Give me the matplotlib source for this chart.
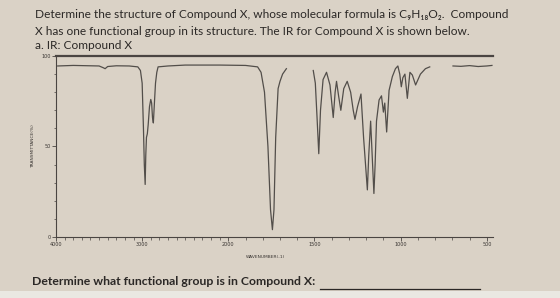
import numpy as np
import matplotlib
matplotlib.use("Agg")
import matplotlib.pyplot as plt
from matplotlib.patches import Rectangle
from matplotlib.ticker import FixedLocator

# IR spectrum of compound X (nan = gap in the trace)
wavenumber = [3980, 3800, 3600, 3500, 3450, 3430, 3400, 3300, 3150, 3050, 3020, 3000,
              2985, 2975, 2965, 2958, 2950, 2940, 2930, 2915, 2900, 2890, 2880, 2870,
              2860, 2845, 2830, 2815, 2700, 2500, 2300, 2100, 1900, 1830, 1810, 1790,
              1770, 1755, 1744, 1735, 1725, 1711, 1700, 1685, 1663, 1600,
              1507, 1495, 1485, 1475, 1465, 1450, 1430, 1410, 1391, 1380, 1372, 1360,
              1347, 1330, 1310, 1290, 1275, 1265, 1250, 1230, 1215, 1193, 1185, 1174,
              1165, 1155, 1148, 1140, 1125, 1111, 1100, 1092, 1081, 1067, 1048, 1030,
              1016, 1005, 996, 987, 975, 961, 946, 932, 913, 885, 856, 831, 760,
              696, 650, 600, 550, 500, 470]
transmittance = [94.5, 94.8, 94.6, 94.5, 93.5, 93.0, 94.2, 94.6, 94.5, 94.0, 92.0, 85.0,
                 60.0, 40.0, 29.0, 45.0, 55.0, 57.0, 62.0, 72.0, 76.0, 74.0, 66.0, 63.0,
                 72.0, 85.0, 91.0, 94.0, 94.5, 95.0, 95.0, 95.0, 94.8, 94.0, 91.0, 80.0,
                 50.0, 15.0, 4.0, 15.0, 55.0, 82.0, 86.0, 90.0, 93.0, np.nan,
                 92.0, 85.0, 66.0, 46.0, 70.0, 87.0, 91.0, 84.0, 66.0, 80.0, 86.0, 78.0,
                 70.0, 82.0, 86.0, 80.0, 70.0, 65.0, 72.0, 79.0, 55.0, 26.0, 45.0, 64.0,
                 45.0, 24.0, 40.0, 64.0, 75.7, 78.0, 69.0, 74.0, 58.0, 81.0, 88.6, 93.0,
                 94.5, 90.0, 83.0, 88.0, 90.0, 76.6, 91.0, 89.5, 84.0, 90.0, 93.0, 94.0, np.nan,
                 94.5, 94.3, 94.7, 94.2, 94.5, 94.8]

x_labels = [4000, 3000, 2000, 1500, 1000, 500]
y_labels = [0, 50, 100]

bg = "#dad2c6"
ink = "#2b2826"
fam = ["Lato", "DejaVu Sans"]


def fwd(x):
    x = np.asarray(x, dtype=float)
    return np.where(x >= 2000, x / 1000.0, 2.0 - (2000.0 - x) / 500.0)


def inv(u):
    u = np.asarray(u, dtype=float)
    return np.where(u >= 2, u * 1000.0, 2000.0 - (2.0 - u) * 500.0)


fig = plt.figure(figsize=(5.6, 2.98), dpi=100)
fig.patch.set_facecolor(bg)
fig.patches.append(Rectangle((0, 0), 1, 0.025, transform=fig.transFigure,
                             facecolor="#eae8e2", edgecolor="none", zorder=0))

ax = fig.add_axes([0.1, 0.205, 0.78, 0.607])
ax.set_facecolor("none")
ax.set_xscale("function", functions=(fwd, inv))
ax.plot(wavenumber, transmittance, color="#524e4a", lw=0.9)
ax.set_xlim(4000, 465)
ax.set_ylim(0, 100)

ax.spines["right"].set_visible(False)
ax.spines["top"].set_linewidth(1.6)
ax.spines["top"].set_color("#4a4542")
for s in ["left", "bottom"]:
    ax.spines[s].set_linewidth(0.8)
    ax.spines[s].set_color("#4a4542")

ax.xaxis.set_major_locator(FixedLocator(x_labels))
ax.xaxis.set_minor_locator(FixedLocator(list(range(600, 4000, 100))))
ax.set_xticklabels([str(v) for v in x_labels])
ax.yaxis.set_major_locator(FixedLocator(y_labels))
ax.yaxis.set_minor_locator(FixedLocator(list(range(10, 100, 10))))
ax.tick_params(axis="both", which="major", length=3, width=0.6, color="#4a4542",
               labelsize=3.5, labelcolor="#3a3633", pad=1)
ax.tick_params(axis="both", which="minor", length=1.8, width=0.5, color="#4a4542")
ax.set_xlabel("WAVENUMBER(-1)", fontsize=3.2, color="#3a3633", labelpad=1)
ax.xaxis.set_label_coords(0.48, -0.1)
ax.set_ylabel("TRANSMITTANCE(%)", fontsize=3.2, color="#3a3633", labelpad=4)

fig.text(0.062, 0.952, "Determine the structure of Compound X, whose molecular formula is "
         "C\u2089H\u2081\u2088O\u2082.  Compound", fontsize=8.6, color=ink, family=fam,
         va="center")
fig.text(0.062, 0.895, "X has one functional group in its structure. The IR for Compound X "
         "is shown below.", fontsize=8.6, color=ink, family=fam, va="center")
fig.text(0.062, 0.848, "a. IR: Compound X", fontsize=8.6, color=ink, family=fam,
         va="center")
fig.text(0.057, 0.055, "Determine what functional group is in Compound X:", fontsize=8.8,
         color=ink, family=fam, weight="bold", va="center")
fig.add_artist(plt.Line2D([0.572, 0.858], [0.031, 0.031], transform=fig.transFigure,
                          color=ink, lw=0.9))

fig.savefig("out.png", dpi=100, facecolor=bg)
